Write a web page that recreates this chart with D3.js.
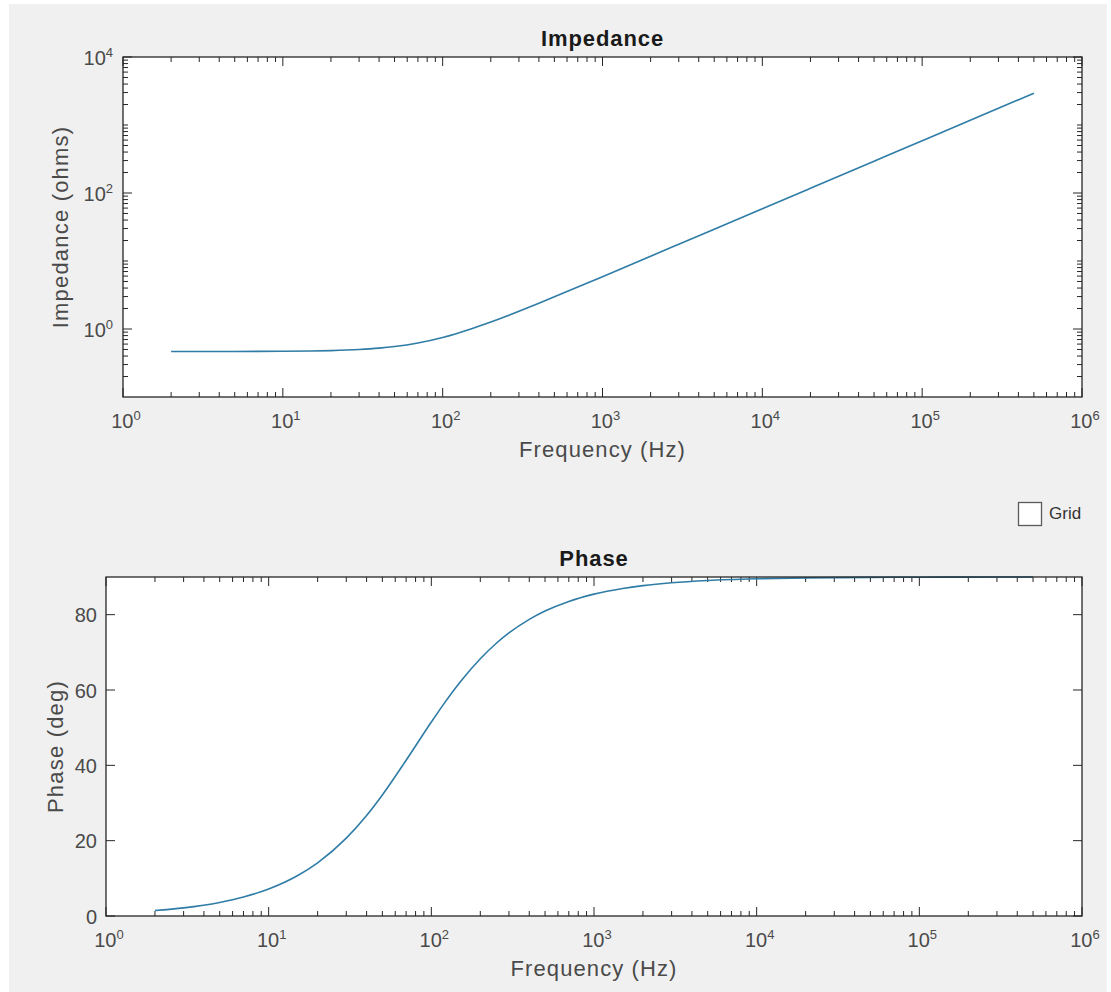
<!DOCTYPE html>
<html>
<head>
<meta charset="utf-8">
<script src="https://cdn.jsdelivr.net/npm/d3@7"></script>
<style>
  html, body { margin: 0; padding: 0; background: #ffffff; }
  svg { display: block; }
  text { font-family: "Liberation Sans", Arial, Helvetica, sans-serif; }
</style>
</head>
<body>
<svg id="chart" width="1111" height="992"></svg>
<script>
// ---- Data ----
const freqHz = [2, 3, 5, 7, 10, 15, 20, 30, 40, 50, 70, 100, 120, 150, 200, 250, 300, 400, 500, 700,
  1000, 1500, 2000, 3000, 5000, 10000, 20000, 50000, 100000, 200000, 500000];
const impedanceOhms = [0.4671, 0.4673, 0.4679, 0.4688, 0.4707, 0.4752, 0.4815, 0.4991, 0.5227,
  0.5515, 0.6220, 0.7500, 0.8450, 0.9965, 1.2632, 1.5397, 1.8214, 2.3934, 2.9712, 4.1344,
  5.8870, 8.8153, 11.746, 17.612, 29.346, 58.687, 117.37, 293.42, 586.85, 1173.7, 2934.3];
const phaseDeg = [1.44, 2.16, 3.60, 5.03, 7.16, 10.67, 14.11, 20.66, 26.69, 32.14, 41.34, 51.49,
  56.45, 62.05, 68.30, 72.34, 75.14, 78.75, 80.96, 83.51, 85.45, 86.96, 87.72, 88.48, 89.09, 89.54,
  89.77, 89.91, 89.95, 89.98, 89.99];

const freqTickExponents = [0, 1, 2, 3, 4, 5, 6];
const impedanceTickExponents = [0, 2, 4];
const phaseTicks = [0, 20, 40, 60, 80];

const titles = ["Impedance", "Phase"];
const xLabel = "Frequency (Hz)";
const yLabels = ["Impedance (ohms)", "Phase (deg)"];
const checkboxLabel = "Grid";

// ---- Drawing ----
const svg = d3.select("#chart");
svg.append("rect").attr("x", 9).attr("y", 4).attr("width", 1098).attr("height", 988).attr("fill", "#f0f0f0");

const axisColor = "#262626";
const textColor = "#4a4a4a";
const lineColor = "#2f7ca6";

const minorDecadeTicks = (lo, hi) => {
  const out = [];
  for (let e = lo; e < hi; e++) {
    for (let m = 2; m <= 9; m++) out.push(m * Math.pow(10, e));
  }
  return out;
};

function drawPanel(p) {
  const g = svg.append("g");
  const x = d3.scaleLog().domain([1, 1e6]).range([p.left, p.right]);
  const y = p.log ? d3.scaleLog().domain([0.1, 1e4]).range([p.bottom, p.top])
                  : d3.scaleLinear().domain([0, 90]).range([p.bottom, p.top]);

  g.append("rect").attr("x", p.left).attr("y", p.top)
    .attr("width", p.right - p.left).attr("height", p.bottom - p.top).attr("fill", "#ffffff");

  const tickG = g.append("g").attr("stroke", axisColor).attr("stroke-width", 1);
  const MAJ = 9, MIN = 5;
  const xMajor = freqTickExponents.map(e => Math.pow(10, e));
  const xMinor = minorDecadeTicks(0, 6);
  xMajor.forEach(v => {
    const px = x(v);
    tickG.append("line").attr("x1", px).attr("x2", px).attr("y1", p.bottom).attr("y2", p.bottom - MAJ);
    tickG.append("line").attr("x1", px).attr("x2", px).attr("y1", p.top).attr("y2", p.top + MAJ);
  });
  xMinor.forEach(v => {
    const px = x(v);
    tickG.append("line").attr("x1", px).attr("x2", px).attr("y1", p.bottom).attr("y2", p.bottom - MIN);
    tickG.append("line").attr("x1", px).attr("x2", px).attr("y1", p.top).attr("y2", p.top + MIN);
  });
  let yMajorVals, yMinorVals;
  if (p.log) {
    yMajorVals = impedanceTickExponents.map(e => Math.pow(10, e));
    yMinorVals = minorDecadeTicks(-1, 4).concat([1e1, 1e3]);
  } else {
    yMajorVals = phaseTicks;
    yMinorVals = [];
  }
  yMajorVals.forEach(v => {
    const py = y(v);
    tickG.append("line").attr("x1", p.left).attr("x2", p.left + MAJ).attr("y1", py).attr("y2", py);
    tickG.append("line").attr("x1", p.right).attr("x2", p.right - MAJ).attr("y1", py).attr("y2", py);
  });
  yMinorVals.forEach(v => {
    const py = y(v);
    tickG.append("line").attr("x1", p.left).attr("x2", p.left + MIN).attr("y1", py).attr("y2", py);
    tickG.append("line").attr("x1", p.right).attr("x2", p.right - MIN).attr("y1", py).attr("y2", py);
  });

  const line = d3.line().x(d => x(d[0])).y(d => y(d[1])).curve(d3.curveMonotoneX);
  const pts = freqHz.map((f, i) => [f, p.values[i]]);
  g.append("path").datum(pts).attr("d", line)
    .attr("fill", "none").attr("stroke", lineColor).attr("stroke-width", 1.6);

  g.append("rect").attr("x", p.left).attr("y", p.top)
    .attr("width", p.right - p.left).attr("height", p.bottom - p.top)
    .attr("fill", "none").attr("stroke", axisColor).attr("stroke-width", 1.3);

  freqTickExponents.forEach(e => {
    const t = g.append("text").attr("x", x(Math.pow(10, e)) + 3).attr("y", p.bottom + 31)
      .attr("text-anchor", "middle").attr("fill", textColor).attr("font-size", 20);
    t.append("tspan").text("10");
    t.append("tspan").attr("font-size", 13).attr("dy", -8).text(String(e));
  });
  if (p.log) {
    impedanceTickExponents.forEach(e => {
      const t = g.append("text").attr("x", p.left - 10).attr("y", y(Math.pow(10, e)) + 7.5)
        .attr("text-anchor", "end").attr("fill", textColor).attr("font-size", 20);
      t.append("tspan").text("10");
      t.append("tspan").attr("font-size", 13).attr("dy", -8).text(String(e));
    });
  } else {
    phaseTicks.forEach(v => {
      g.append("text").attr("x", p.left - 9).attr("y", y(v) + 7.5)
        .attr("text-anchor", "end").attr("fill", textColor).attr("font-size", 20).text(String(v));
    });
  }

  g.append("text").attr("x", (p.left + p.right) / 2).attr("y", p.bottom + 60)
    .attr("text-anchor", "middle").attr("fill", textColor).attr("font-size", 22)
    .attr("letter-spacing", 1.1).text(xLabel);
  g.append("text").attr("transform", `translate(${p.ylabelX},${(p.top + p.bottom) / 2}) rotate(-90)`)
    .attr("text-anchor", "middle").attr("fill", textColor).attr("font-size", 22)
    .attr("letter-spacing", 1.2).text(p.ylabel);
  g.append("text").attr("x", (p.left + p.right) / 2).attr("y", p.top - 11)
    .attr("text-anchor", "middle").attr("fill", "#1a1a1a").attr("font-size", 22)
    .attr("font-weight", "bold").attr("letter-spacing", 0.9).text(p.title);
}

drawPanel({ left: 123, right: 1082, top: 57, bottom: 397, log: true,
  values: impedanceOhms, title: titles[0], ylabel: yLabels[0], ylabelX: 68 });
drawPanel({ left: 106, right: 1082, top: 577, bottom: 916, log: false,
  values: phaseDeg, title: titles[1], ylabel: yLabels[1], ylabelX: 63 });

svg.append("rect").attr("x", 1018.5).attr("y", 502.5).attr("width", 23).attr("height", 23)
  .attr("fill", "#ffffff").attr("stroke", "#5a5a5a").attr("stroke-width", 1.3);
svg.append("text").attr("x", 1049).attr("y", 519).attr("fill", "#333333")
  .attr("font-size", 17).text(checkboxLabel);
</script>
</body>
</html>
